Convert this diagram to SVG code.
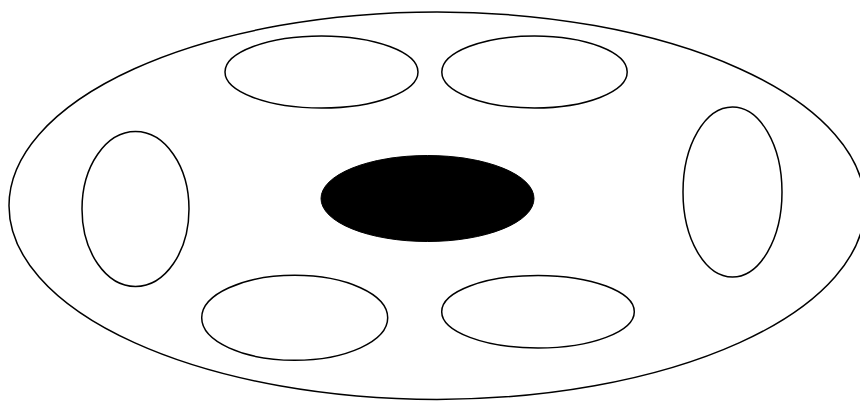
<svg xmlns="http://www.w3.org/2000/svg" width="860" height="401" viewBox="0 0 860 401">
<style>
.o{fill:none;stroke:#000;stroke-width:1.5}
.f{fill:#000;stroke:#000;stroke-width:1}
</style>
<rect width="860" height="401" fill="#fff"/>
<g id="outer"><ellipse class="o" cx="437" cy="205.7" rx="428" ry="193.7"/></g>
<g id="top-left"><ellipse class="o" cx="321.5" cy="72" rx="96.5" ry="36"/></g>
<g id="top-right"><ellipse class="o" cx="534.5" cy="72" rx="92.7" ry="36"/></g>
<g id="left"><ellipse class="o" cx="135.5" cy="209" rx="53.5" ry="77.5"/></g>
<g id="right"><ellipse class="o" cx="732.5" cy="192" rx="49.5" ry="85"/></g>
<g id="center"><ellipse class="f" cx="427.5" cy="198.5" rx="106.5" ry="43"/></g>
<g id="bottom-left"><ellipse class="o" cx="294.7" cy="317.8" rx="93" ry="42.5"/></g>
<g id="bottom-right"><ellipse class="o" cx="538" cy="311.7" rx="96.3" ry="36.3"/></g>
<g id="connectors"></g>
</svg>
